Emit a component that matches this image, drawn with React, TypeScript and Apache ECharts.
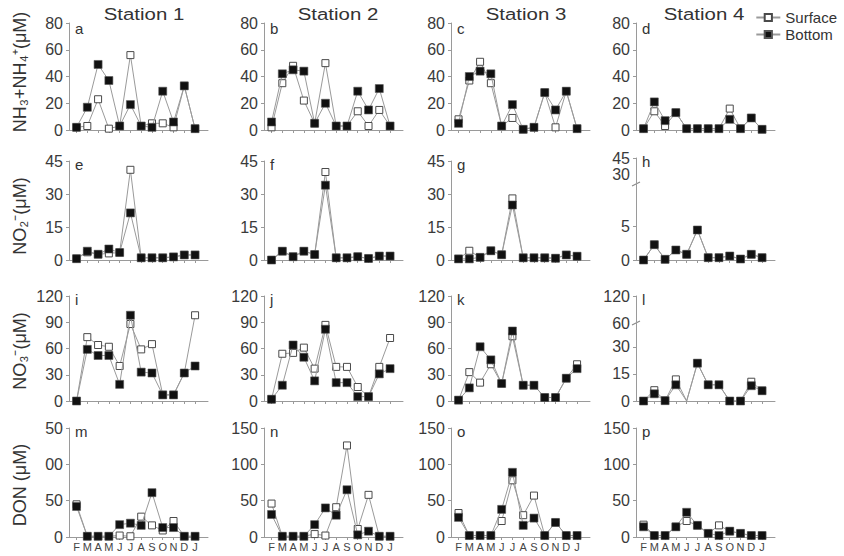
import React, { useEffect, useRef } from "react";
import * as echarts from "echarts";

const MONTHS = ["F", "M", "A", "M", "J", "J", "A", "S", "O", "N", "D", "J"];
const STATIONS = ["Station 1", "Station 2", "Station 3", "Station 4"];
const LETTERS = "abcdefghijklmnop".split("");

// NH3+NH4+ (µM)
const aSurface = [2, 3, 23, 1, 3, 56, 3, 5, 5, 2, 33, 1];
const aBottom = [2, 17, 49, 37, 3, 19, 3, 2, 29, 6, 33, 1];
const bSurface = [2, 35, 48, 22, 5, 50, 3, 3, 14, 3, 15, 3];
const bBottom = [6, 42, 45, 44, 5, 20, 3, 3, 29, 15, 31, 3];
const cSurface = [8, 37, 51, 35, 3, 9, 0.5, 2, 28, 2, 29, 1];
const cBottom = [5, 40, 44, 42, 3, 19, 0.5, 2, 28, 15, 29, 1];
const dSurface = [1, 14, 3, 13, 1, 1, 1, 1, 16, 1, 9, 0.5];
const dBottom = [1, 21, 7, 13, 1, 1, 1, 1, 8, 1, 9, 0.5];
// NO2- (µM)
const eSurface = [0.6, 3.5, 2.6, 3, 3.4, 41, 1, 1, 1, 1.4, 2.3, 2.3];
const eBottom = [0.6, 4, 2.6, 5, 3.4, 21.4, 1, 1, 1, 1.4, 2.3, 2.3];
const fSurface = [0, 4, 1.5, 4, 2.5, 40, 1, 1, 1.5, 0.7, 1.8, 1.8];
const fBottom = [0, 4, 1.5, 4, 2.5, 34, 1, 1, 1.5, 0.7, 1.8, 1.8];
const gSurface = [0.5, 4.2, 1.2, 4.2, 2.4, 28, 1, 1, 1, 0.8, 2.3, 1.7];
const gBottom = [0.5, 0.5, 1.2, 4.2, 2.4, 25, 1, 1, 1, 0.8, 2.3, 1.7];
const hSurface = [0, 2.3, 0.1, 1.5, 0.85, 4.5, 0.35, 0.35, 0.6, 0.15, 0.85, 0.35];
const hBottom = [0, 2.3, 0.1, 1.5, 0.85, 4.5, 0.35, 0.35, 0.6, 0.15, 0.85, 0.35];
// NO3- (µM)
const iSurface = [0, 73, 64, 62, 40, 88, 59, 65, 7, 7, 32, 98];
const iBottom = [0, 59, 52, 52, 19, 98, 33, 32, 7, 7, 32, 40];
const jSurface = [2, 54, 55, 61, 37, 87, 39, 39, 16, 5, 39, 72];
const jBottom = [2, 18, 64, 50, 23, 82, 21, 21, 5, 5, 31, 37];
const kSurface = [1, 33, 21, 42, 20, 74, 18, 18, 4, 4, 26, 42];
const kBottom = [1, 15, 62, 47, 20, 80, 18, 18, 4, 4, 26, 37];
const lSurface = [0, 6, 0.2, 12, 0, 21, 9, 9, 0, 0, 10.7, 5.7];
const lBottom = [0, 4, 0.2, 9, 0, 21, 9, 9, 0, 0, 8.5, 5.7];
const lHiddenMonths = [5];
// DON (µM)
const mSurface = [45, 1, 1, 1, 2, 1, 28, 16, 9, 22, 1, 1];
const mBottom = [42, 1, 1, 1, 17, 19, 16, 61, 13, 13, 1, 1];
const nSurface = [46, 1, 1, 1, 4, 2, 41, 126, 11, 58, 1, 1];
const nBottom = [31, 1, 1, 1, 17, 40, 30, 65, 3, 8, 1, 1];
const oSurface = [33, 2, 2, 2, 22, 78, 30, 57, 2, 20, 2, 2];
const oBottom = [27, 2, 2, 2, 38, 89, 16, 26, 2, 20, 2, 2];
const pSurface = [17, 2, 2, 14, 22, 16, 5, 16, 8, 5, 2, 2];
const pBottom = [14, 2, 2, 14, 34, 16, 5, 2, 8, 5, 2, 2];

const ROW_TITLES = ["NH\u2083+NH\u2084\u207A(\u03BCM)", "NO\u2082\u207B(\u03BCM)", "NO\u2083\u207B(\u03BCM)", "DON (\u03BCM)"];
const ROW_MAX = [80, 45, 120, 150];
const ROW_INTERVAL = [20, 15, 30, 50];
// broken-axis label tables (value on plot scale -> printed label)
const hTicks = [0, 5, 12.9, 15.3];
const hTickLabels = ["0", "5", "30", "45"];
const lTicks = [0, 15, 30, 43.3, 58.3];
const lTickLabels = ["0", "15", "30", "60", "120"];
const mTickLabels = ["0", "50", "00", "50"];

const SURFACE = [aSurface, bSurface, cSurface, dSurface, eSurface, fSurface, gSurface, hSurface, iSurface, jSurface, kSurface, lSurface, mSurface, nSurface, oSurface, pSurface];
const BOTTOM = [aBottom, bBottom, cBottom, dBottom, eBottom, fBottom, gBottom, hBottom, iBottom, jBottom, kBottom, lBottom, mBottom, nBottom, oBottom, pBottom];

const FONT = "'Liberation Sans', Arial, Helvetica, sans-serif";
const COL_LEFT = [69, 264, 451, 636];
const PANEL_W = 139;
const ROW_TOP = [23, 161, 296, 428];
const ROW_H = [107, 99, 105, 109];

export default function App() {
  const ref = useRef<HTMLDivElement>(null);
  useEffect(() => {
    if (!ref.current) return;
    const chart = echarts.init(ref.current, undefined, { renderer: "svg" });
    const grids: any[] = [];
    const xAxes: any[] = [];
    const yAxes: any[] = [];
    const series: any[] = [];
    const graphics: any[] = [];
    for (let k = 0; k < 16; k++) {
      const row = Math.floor(k / 4);
      const col = k % 4;
      let top = ROW_TOP[row];
      let height = ROW_H[row];
      if (k === 7) { top = 158; height = 102; }
      grids.push({ left: COL_LEFT[col], top, width: PANEL_W, height });
      xAxes.push({
        type: "value", gridIndex: k, min: 0.3, max: 13.2,
        axisLine: { show: true, lineStyle: { color: "#9a9a9a", width: 1 } },
        axisTick: { show: true, length: 3, inside: false, customValues: MONTHS.map((_, i) => i + 1), lineStyle: { color: "#9a9a9a" } },
        axisLabel: {
          show: row === 3, customValues: MONTHS.map((_, i) => i + 1), margin: 4,
          formatter: (v: number) => MONTHS[Math.round(v) - 1] || "",
          fontSize: 11, color: "#444", fontFamily: FONT,
        },
        splitLine: { show: false },
      });
      const y: any = {
        type: "value", gridIndex: k, min: 0,
        axisLine: { show: true, lineStyle: { color: "#9a9a9a", width: 1 } },
        axisTick: { show: true, length: 3, lineStyle: { color: "#9a9a9a" } },
        axisLabel: { fontSize: 16, color: "#3a3a3a", margin: 6, fontFamily: FONT },
        splitLine: { show: false },
      };
      if (k === 7) {
        y.max = 15.3;
        y.axisLabel.customValues = hTicks;
        y.axisTick.customValues = [0, 5, 15.3];
        y.axisLabel.formatter = (v: number) => hTickLabels[hTicks.findIndex((t) => Math.abs(t - v) < 0.01)] ?? "";
      } else if (k === 11) {
        y.max = 58.3;
        y.axisLabel.customValues = lTicks;
        y.axisTick.customValues = [0, 15, 30, 58.3];
        y.axisLabel.formatter = (v: number) => lTickLabels[lTicks.findIndex((t) => Math.abs(t - v) < 0.01)] ?? "";
      } else {
        y.max = ROW_MAX[row];
        y.interval = ROW_INTERVAL[row];
        if (k === 12) y.axisLabel.formatter = (v: number) => mTickLabels[Math.round(v / 50)];
      }
      yAxes.push(y);
      const mk = (arr: number[]) => arr.map((v, i) =>
        k === 11 && lHiddenMonths.includes(i + 1) ? { value: [i + 1, v], symbol: "none" } : [i + 1, v]);
      series.push({
        name: "Surface", type: "line", xAxisIndex: k, yAxisIndex: k, data: mk(SURFACE[k]),
        symbol: "rect", symbolSize: 7, z: 2,
        lineStyle: { color: "#9a9a9a", width: 1 },
        itemStyle: { color: "#ffffff", borderColor: "#4a4a4a", borderWidth: 1 },
      });
      series.push({
        name: "Bottom", type: "line", xAxisIndex: k, yAxisIndex: k, data: mk(BOTTOM[k]),
        symbol: "rect", symbolSize: 8, z: 3,
        lineStyle: { color: "#9a9a9a", width: 1 },
        itemStyle: { color: "#111111", borderColor: "#555", borderWidth: 0.6 },
      });
      graphics.push({
        type: "text", x: COL_LEFT[col] + 6, y: top + (row === 0 ? 5 : 3),
        style: { text: LETTERS[k], fontSize: 15, fontFamily: FONT, fill: "#333", textAlign: "left", textVerticalAlign: "middle", align: "left", verticalAlign: "middle" },
      });
    }
    const stationX = [144, 338, 526, 704];
    STATIONS.forEach((s, i) => {
      graphics.push({
        type: "text", x: stationX[i], y: 14, scaleX: 1.2,
        style: { text: s, fontSize: 17, fontFamily: FONT, fill: "#333", textAlign: "center", textVerticalAlign: "middle", align: "center", verticalAlign: "middle" },
      });
    });
    const titleY = [72, 216, 351, 485];
    ROW_TITLES.forEach((t, i) => {
      graphics.push({
        type: "text", x: 20, y: titleY[i], rotation: Math.PI / 2,
        style: { text: t, fontSize: 18, fontFamily: FONT, fill: "#333", textAlign: "center", textVerticalAlign: "middle", align: "center", verticalAlign: "middle" },
      });
    });
    // axis-break marks on panels h and l
    [[636, 184], [636, 323]].forEach(([bx, by]) => {
      graphics.push({ type: "line", shape: { x1: bx - 4, y1: by + 2, x2: bx + 4, y2: by - 2 }, style: { stroke: "#888", lineWidth: 1.2 } });
    });
    chart.setOption({
      animation: false,
      backgroundColor: "#ffffff",
      grid: grids,
      xAxis: xAxes,
      yAxis: yAxes,
      series,
      legend: {
        data: ["Surface", "Bottom"], orient: "vertical", right: 2, top: 5,
        itemWidth: 24, itemHeight: 9, itemGap: 2, selectedMode: false,
        textStyle: { fontSize: 15, color: "#333", fontFamily: FONT },
      },
      graphic: graphics,
    });
    return () => chart.dispose();
  }, []);
  return <div ref={ref} style={{ position: "fixed", left: 0, top: 0, width: 844, height: 556 }} />;
}
